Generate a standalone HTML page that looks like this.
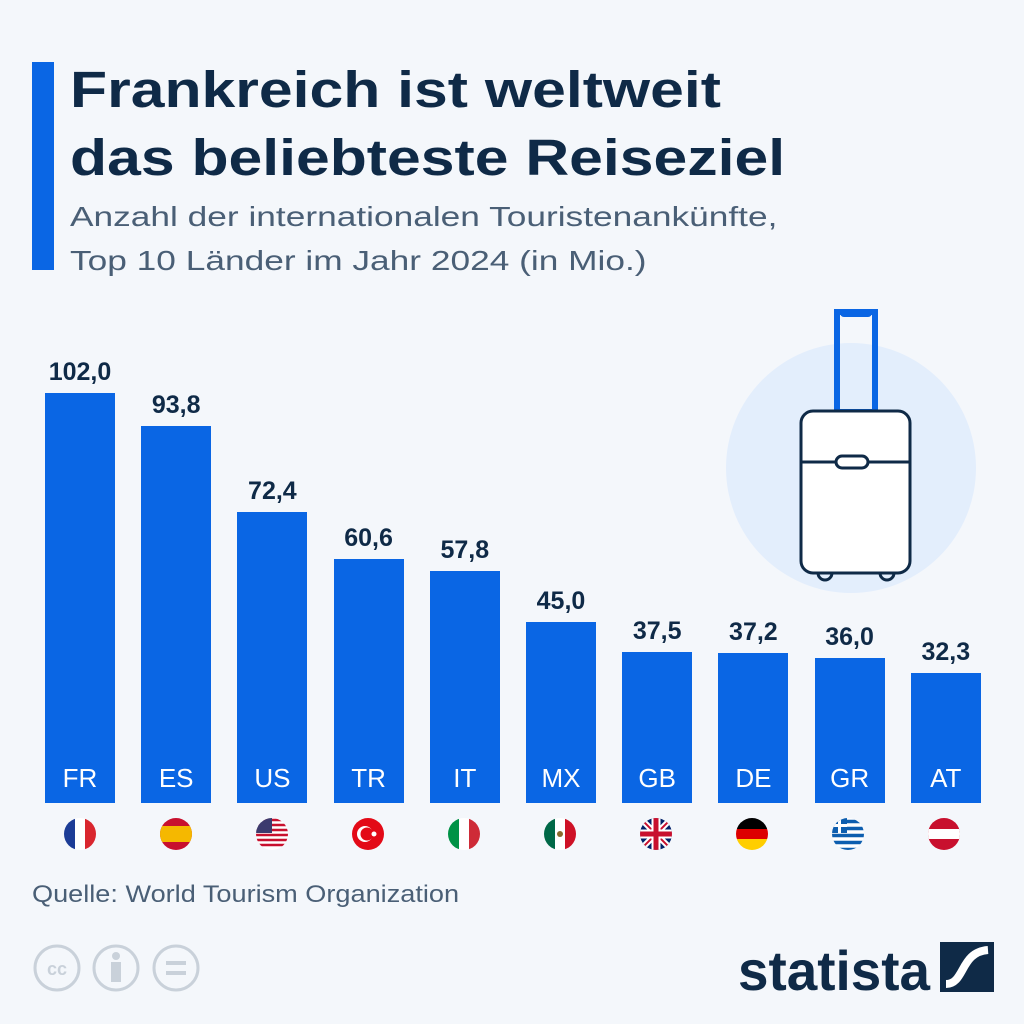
<!DOCTYPE html>
<html><head><meta charset="utf-8"><style>
body{margin:0;width:1024px;height:1024px;background:#f4f7fb;font-family:"Liberation Sans",sans-serif;position:relative;overflow:hidden}
.a{position:absolute}
.t{left:70px;top:56px;font-size:51px;font-weight:bold;color:#0f2a47;line-height:68px;transform:scaleX(1.19);transform-origin:0 0;white-space:nowrap}
.s{left:70px;top:195px;font-size:28px;color:#4a5f76;line-height:44px;transform:scaleX(1.26);transform-origin:0 0;white-space:nowrap}
.bar{position:absolute;background:#0a66e4;width:70px;bottom:221px}
.v{position:absolute;width:100px;text-align:center;font-size:25px;font-weight:bold;color:#0f2a47}
.c{position:absolute;width:70px;text-align:center;font-size:26px;color:#fff;top:763px}
</style></head><body>
<div class="a" style="left:32px;top:62px;width:22px;height:208px;background:#0a66e4"></div>
<div class="a t">Frankreich ist weltweit<br>das beliebteste Reiseziel</div>
<div class="a s">Anzahl der internationalen Touristenankünfte,<br>Top 10 Länder im Jahr 2024 (in Mio.)</div>
<svg class="a" style="left:0;top:0" width="1024" height="1024">
<circle cx="851" cy="468" r="125" fill="#e3eefc"/>
<rect x="837" y="312" width="38" height="100" fill="none" stroke="#0a66e4" stroke-width="6"/>
<rect x="840" y="309" width="32" height="8" rx="4" fill="#0a66e4"/>
<rect x="801" y="411" width="109" height="162" rx="12" fill="#fff" stroke="#0f2a47" stroke-width="3"/>
<line x1="801" y1="462" x2="910" y2="462" stroke="#0f2a47" stroke-width="3"/>
<rect x="836" y="456" width="32" height="12" rx="6" fill="#fff" stroke="#0f2a47" stroke-width="3"/>
<path d="M818 573 a6 6 0 0 0 14 0 M880 573 a6 6 0 0 0 14 0" fill="none" stroke="#0f2a47" stroke-width="3"/>
</svg>
<div id="bars"></div>
<script>
var d=[["FR",102.0],["ES",93.8],["US",72.4],["TR",60.6],["IT",57.8],["MX",45.0],["GB",37.5],["DE",37.2],["GR",36.0],["AT",32.3]];
var h="";
d.forEach(function(e,i){var x=45+i*96.2,hh=e[1]*4.02,top=803-hh;
h+='<div class="bar" style="left:'+x+'px;height:'+hh+'px"></div>';
h+='<div class="v" style="left:'+(x-15)+'px;top:'+(top-35)+'px">'+e[1].toFixed(1).replace(".",",")+'</div>';
h+='<div class="c" style="left:'+x+'px">'+e[0]+'</div>';});
document.getElementById("bars").innerHTML=h;
</script>
<svg class="a" style="left:0;top:0" width="1024" height="1024">
<defs><clipPath id="cp"><circle r="16"/></clipPath></defs>
<g transform="translate(80,834)" clip-path="url(#cp)"><rect x="-16" y="-16" width="11" height="32" fill="#1c3c96"/><rect x="-5" y="-16" width="10" height="32" fill="#fff"/><rect x="5" y="-16" width="11" height="32" fill="#d9262e"/></g>
<g transform="translate(176,834)" clip-path="url(#cp)"><rect x="-16" y="-16" width="32" height="32" fill="#c8102e"/><rect x="-16" y="-8" width="32" height="16" fill="#f5b800"/></g>
<g transform="translate(272,834)" clip-path="url(#cp)"><rect x="-16" y="-16" width="32" height="32" fill="#fff"/><path d="M-16 -14h32M-16 -9h32M-16 -4h32M-16 1h32M-16 6h32M-16 11h32" stroke="#c8102e" stroke-width="2.5"/><rect x="-16" y="-16" width="16" height="15" fill="#3c3b6e"/></g>
<g transform="translate(368,834)" clip-path="url(#cp)"><rect x="-16" y="-16" width="32" height="32" fill="#e30a17"/><circle cx="-3" cy="0" r="8" fill="#fff"/><circle cx="-1" cy="0" r="6.5" fill="#e30a17"/><circle cx="6" cy="0" r="2.5" fill="#fff"/></g>
<g transform="translate(464,834)" clip-path="url(#cp)"><rect x="-16" y="-16" width="11" height="32" fill="#009246"/><rect x="-5" y="-16" width="10" height="32" fill="#fff"/><rect x="5" y="-16" width="11" height="32" fill="#ce2b37"/></g>
<g transform="translate(560,834)" clip-path="url(#cp)"><rect x="-16" y="-16" width="11" height="32" fill="#006847"/><rect x="-5" y="-16" width="10" height="32" fill="#fff"/><rect x="5" y="-16" width="11" height="32" fill="#ce1126"/><circle r="3" fill="#8a6a2a"/></g>
<g transform="translate(656,834)" clip-path="url(#cp)"><rect x="-16" y="-16" width="32" height="32" fill="#012169"/><path d="M-16 -16L16 16M16 -16L-16 16" stroke="#fff" stroke-width="6"/><path d="M-16 -16L16 16M16 -16L-16 16" stroke="#c8102e" stroke-width="2"/><path d="M0 -16V16M-16 0H16" stroke="#fff" stroke-width="9"/><path d="M0 -16V16M-16 0H16" stroke="#c8102e" stroke-width="5"/></g>
<g transform="translate(752,834)" clip-path="url(#cp)"><rect x="-16" y="-16" width="32" height="11" fill="#000"/><rect x="-16" y="-5" width="32" height="10" fill="#dd0000"/><rect x="-16" y="5" width="32" height="11" fill="#ffce00"/></g>
<g transform="translate(848,834)" clip-path="url(#cp)"><rect x="-16" y="-16" width="32" height="32" fill="#fff"/><path d="M-16 -12.5h32M-16 -5.5h32M-16 1.5h32M-16 8.5h32M-16 15.5h32" stroke="#0d5eaf" stroke-width="3.5"/><rect x="-16" y="-16" width="15" height="15" fill="#0d5eaf"/><path d="M-8.5 -16v15M-16 -8.5h15" stroke="#fff" stroke-width="3"/></g>
<g transform="translate(944,834)" clip-path="url(#cp)"><rect x="-16" y="-16" width="32" height="32" fill="#c8102e"/><rect x="-16" y="-5" width="32" height="10" fill="#fff"/></g>
<g fill="none" stroke="#c9d1da" stroke-width="3"><circle cx="57" cy="968" r="22"/><circle cx="116" cy="968" r="22"/><circle cx="176" cy="968" r="22"/></g>
<text x="57" y="975" font-size="18" font-weight="bold" fill="#c9d1da" text-anchor="middle" font-family="Liberation Sans">cc</text>
<circle cx="116" cy="956" r="4" fill="#c9d1da"/><rect x="111" y="962" width="10" height="20" fill="#c9d1da"/>
<rect x="166" y="961" width="20" height="4" fill="#c9d1da"/><rect x="166" y="971" width="20" height="4" fill="#c9d1da"/>
<text x="738" y="990" font-size="56" font-weight="bold" fill="#0f2a47" font-family="Liberation Sans" textLength="192" lengthAdjust="spacingAndGlyphs">statista</text>
<rect x="940" y="942" width="54" height="50" fill="#0f2a47"/>
<path d="M946 984 C965 984 960 952 988 950" stroke="#fff" stroke-width="8" fill="none"/>
</svg>
<div class="a" style="left:32px;top:881px;font-size:24px;color:#4a5f76;transform:scaleX(1.13);transform-origin:0 0;white-space:nowrap">Quelle: World Tourism Organization</div>
</body></html>
